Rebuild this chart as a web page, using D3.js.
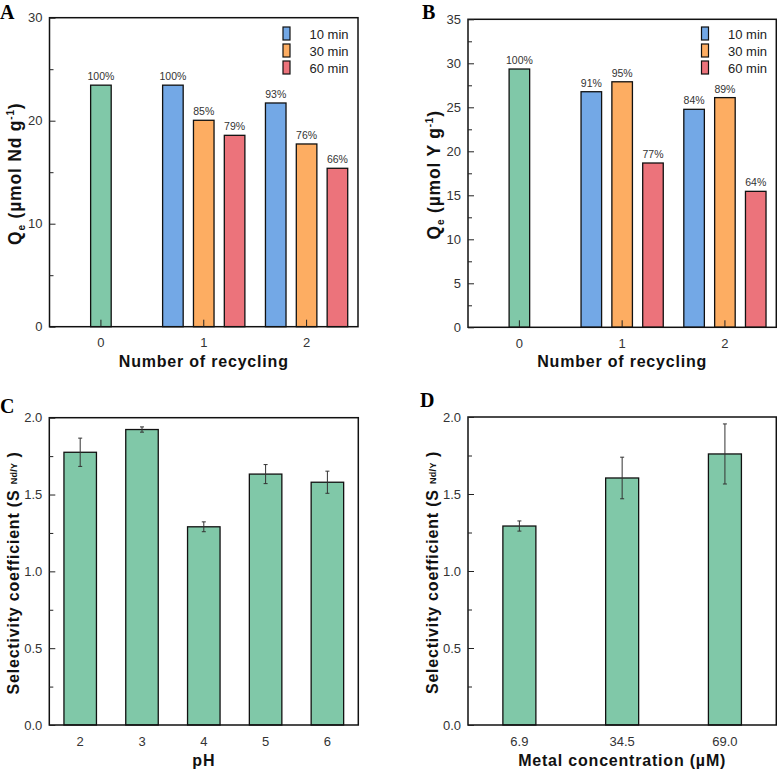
<!DOCTYPE html>
<html><head><meta charset="utf-8">
<script src="https://cdn.jsdelivr.net/npm/d3@7"></script>
<style>body{margin:0;background:#fff;} text{font-family:"Liberation Sans",Arial,sans-serif;}</style>
</head><body><svg id="c" width="777" height="770"></svg>
<script>
// ---------- data ----------
const recycling = ["0", "1", "2"];
const times = ["10 min", "30 min", "60 min"];
// Panel A (Nd)
const ndFresh = 23.45, ndFreshPct = "100%";
const nd10 = [23.45, 21.72], nd30 = [20.04, 17.74], nd60 = [18.58, 15.38];
const ndPct10 = ["100%", "93%"], ndPct30 = ["85%", "76%"], ndPct60 = ["79%", "66%"];
// Panel B (Y)
const yFresh = 29.35, yFreshPct = "100%";
const y10 = [26.77, 24.77], y30 = [27.9, 26.1], y60 = [18.67, 15.45];
const yPct10 = ["91%", "84%"], yPct30 = ["95%", "89%"], yPct60 = ["77%", "64%"];
// Panel C
const pH = ["2", "3", "4", "5", "6"];
const selPH = [1.775, 1.923, 1.29, 1.633, 1.58];
const selPHErr = [0.092, 0.017, 0.032, 0.062, 0.072];
// Panel D
const conc = ["6.9", "34.5", "69.0"];
const selConc = [1.292, 1.604, 1.76];
const selConcErr = [0.033, 0.135, 0.195];
// ticks
const yTicksA = [0, 10, 20, 30], yMinorA = [5, 15, 25];
const yTicksB = [0, 5, 10, 15, 20, 25, 30, 35], yMinorB = [2.5, 7.5, 12.5, 17.5, 22.5, 27.5, 32.5];
const yTicksS = [0, 0.5, 1.0, 1.5, 2.0], yMinorS = [0.25, 0.75, 1.25, 1.75];

const colors = {fresh: "#80c8a8", "10 min": "#73a8e6", "30 min": "#fdad62", "60 min": "#ec737b"};
const svg = d3.select("#c");

function frameAndAxes(g, p, y, ticks, minor, fmt) {
  g.append("rect").attr("x", p.l).attr("y", p.t).attr("width", p.r - p.l).attr("height", p.b - p.t)
    .attr("fill", "none").attr("stroke", "#111").attr("stroke-width", 1.5);
  const ax = d3.axisRight(y).tickValues(ticks).tickSize(6).tickFormat("");
  const ga = g.append("g").attr("transform", `translate(${p.l},0)`).call(ax);
  ga.select(".domain").remove();
  ga.selectAll("line").attr("stroke", "#222").attr("stroke-width", 1);
  const am = d3.axisRight(y).tickValues(minor).tickSize(4).tickFormat("");
  const gm = g.append("g").attr("transform", `translate(${p.l},0)`).call(am);
  gm.select(".domain").remove();
  gm.selectAll("line").attr("stroke", "#222").attr("stroke-width", 1);
  g.selectAll(".ylab").data(ticks).enter().append("text")
    .attr("x", p.l - 7).attr("y", d => y(d) + 4.5).attr("text-anchor", "end")
    .attr("font-size", 13).attr("fill", "#333").text(fmt);
}

function panelLetter(x, y, t) {
  svg.append("text").attr("x", x).attr("y", y).text(t)
    .attr("font-weight", "bold").attr("font-size", 20)
    .style("font-family", "'Liberation Serif','Times New Roman',serif");
}

function boldLabel(x, y, rotate, size) {
  return svg.append("text").attr("text-anchor", "middle").attr("font-weight", "bold")
    .attr("font-size", size || 16).attr("fill", "#111").style("letter-spacing", "0.8px")
    .attr("transform", `translate(${x},${y})` + (rotate ? " rotate(-90)" : ""));
}

function recyclePanel(p, yMax, ticks, minor, fresh, freshPct, s10, s30, s60, p10, p30, p60, legendX, unitEl) {
  const g = svg.append("g");
  const x = d3.scaleBand().domain(recycling).range([p.l, p.r]).padding(0);
  const bw = x.bandwidth();
  const sub = d3.scaleBand().domain(times).range([0.1 * bw, 0.9 * bw]).paddingInner(1 / 3).paddingOuter(0);
  const y = d3.scaleLinear().domain([0, yMax]).range([p.b, p.t]);
  const bars = [{cat: "0", off: 0.4 * bw, v: fresh, c: colors.fresh, lab: freshPct}];
  const series = [s10, s30, s60], pcts = [p10, p30, p60];
  times.forEach((t, ti) => {
    series[ti].forEach((v, i) => bars.push({cat: recycling[i + 1], off: sub(t), v: v, c: colors[t], lab: pcts[ti][i]}));
  });
  const sw = sub.bandwidth();
  g.selectAll(".bar").data(bars).enter().append("rect")
    .attr("x", d => x(d.cat) + d.off).attr("width", sw)
    .attr("y", d => y(d.v)).attr("height", d => p.b - y(d.v))
    .attr("fill", d => d.c).attr("stroke", "#111").attr("stroke-width", 1.3);
  g.selectAll(".pct").data(bars).enter().append("text")
    .attr("x", d => x(d.cat) + d.off + sw / 2).attr("y", d => y(d.v) - 5)
    .attr("text-anchor", "middle").attr("font-size", 10.5).attr("fill", "#333").text(d => d.lab);
  frameAndAxes(g, p, y, ticks, minor, d => d);
  const xa = d3.axisTop(x).tickSize(7).tickFormat("");
  const gx = g.append("g").attr("transform", `translate(0,${p.b})`).call(xa);
  gx.select(".domain").remove();
  gx.selectAll("line").attr("stroke", "#222").attr("stroke-width", 1);
  g.selectAll(".xlab").data(recycling).enter().append("text")
    .attr("x", d => x(d) + bw / 2).attr("y", p.b + 20.5).attr("text-anchor", "middle")
    .attr("font-size", 13).attr("fill", "#333").text(d => d);
  times.forEach((t, i) => {
    g.append("rect").attr("x", legendX).attr("y", 27 + i * 17).attr("width", 7).attr("height", 13)
      .attr("fill", colors[t]).attr("stroke", "#111").attr("stroke-width", 1.2);
    g.append("text").attr("x", legendX + 26.5).attr("y", 39.3 + i * 17).attr("font-size", 13)
      .attr("fill", "#222").text(t);
  });
  boldLabel((p.l + p.r) / 2, 367, false).text("Number of recycling");
  const yl = boldLabel(p.l - 28.5, (p.t + p.b) / 2 + 1.5, true, 17.5);
  yl.append("tspan").text("Q");
  yl.append("tspan").attr("font-size", 10).attr("dy", 4).text("e");
  yl.append("tspan").attr("dy", -4).text(` (µmol ${unitEl} g`);
  yl.append("tspan").attr("font-size", 10).attr("dy", -7).text("-1");
  yl.append("tspan").attr("dy", 7).text(")");
}

function selPanel(p, cats, vals, errs, barW, xlab) {
  const g = svg.append("g");
  const x = d3.scaleBand().domain(cats).range([p.l, p.r]).padding(0);
  const bw = x.bandwidth();
  const y = d3.scaleLinear().domain([0, 2]).range([p.b, p.t]);
  const data = cats.map((c, i) => ({c: c, v: vals[i], e: errs[i]}));
  g.selectAll(".bar").data(data).enter().append("rect")
    .attr("x", d => x(d.c) + (bw - barW) / 2).attr("width", barW)
    .attr("y", d => y(d.v)).attr("height", d => p.b - y(d.v))
    .attr("fill", colors.fresh).attr("stroke", "#111").attr("stroke-width", 1.3);
  const eg = g.selectAll(".err").data(data).enter().append("g").attr("stroke", "#333").attr("stroke-width", 1);
  eg.append("line").attr("x1", d => x(d.c) + bw / 2).attr("x2", d => x(d.c) + bw / 2)
    .attr("y1", d => y(d.v + d.e)).attr("y2", d => y(d.v - d.e));
  eg.append("line").attr("x1", d => x(d.c) + bw / 2 - 2).attr("x2", d => x(d.c) + bw / 2 + 2)
    .attr("y1", d => y(d.v + d.e)).attr("y2", d => y(d.v + d.e));
  eg.append("line").attr("x1", d => x(d.c) + bw / 2 - 2).attr("x2", d => x(d.c) + bw / 2 + 2)
    .attr("y1", d => y(d.v - d.e)).attr("y2", d => y(d.v - d.e));
  frameAndAxes(g, p, y, yTicksS, yMinorS, d3.format(".1f"));
  g.selectAll(".xlab").data(cats).enter().append("text")
    .attr("x", d => x(d) + bw / 2).attr("y", p.b + 20.5).attr("text-anchor", "middle")
    .attr("font-size", 13).attr("fill", "#333").text(d => d);
  boldLabel((p.l + p.r) / 2, 766, false).text(xlab);
  const yl = boldLabel(p.l - 30.5, (p.t + p.b) / 2 + 1.5, true);
  yl.append("tspan").text("Selectivity coefficient (S ");
  yl.append("tspan").attr("font-size", 9).attr("dy", -1.5).style("letter-spacing", "0.3px").text("Nd/Y");
  yl.append("tspan").attr("dy", 1.5).text(" )");
}

const pA = {l: 49.5, r: 358, t: 17.7, b: 326.7};
const pB = {l: 468, r: 776.3, t: 19.3, b: 327.3};
const pC = {l: 49.3, r: 358.3, t: 417.7, b: 725};
const pD = {l: 468, r: 776.3, t: 417, b: 725};

recyclePanel(pA, 30, yTicksA, yMinorA, ndFresh, ndFreshPct, nd10, nd30, nd60, ndPct10, ndPct30, ndPct60, 283, "Nd");
recyclePanel(pB, 35, yTicksB, yMinorB, yFresh, yFreshPct, y10, y30, y60, yPct10, yPct30, yPct60, 701.5, "Y");
selPanel(pC, pH, selPH, selPHErr, 32.5, "pH");
selPanel(pD, conc, selConc, selConcErr, 33, "Metal concentration (µM)");

panelLetter(0, 19, "A");
panelLetter(422, 19, "B");
panelLetter(0, 412.5, "C");
panelLetter(420, 406.5, "D");
</script></body></html>
